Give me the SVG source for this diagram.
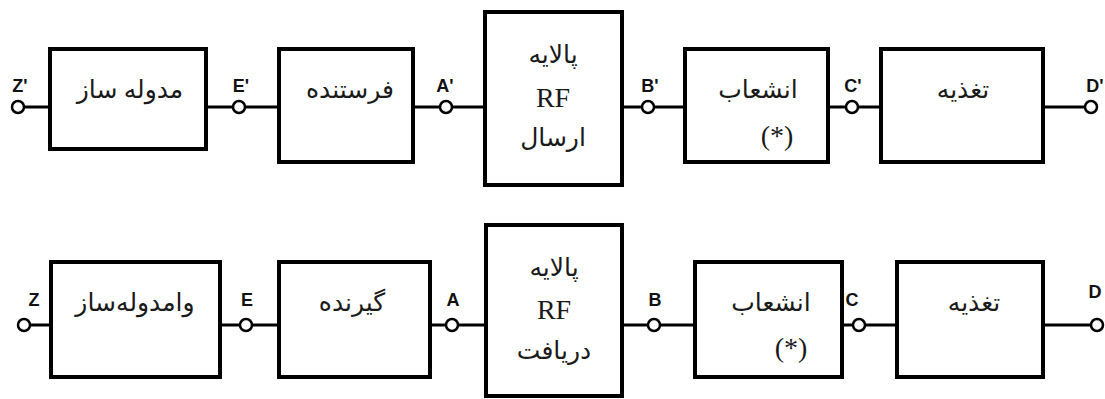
<svg xmlns="http://www.w3.org/2000/svg" xmlns:xlink="http://www.w3.org/1999/xlink" width="1105" height="399" viewBox="0 0 1105 399">
  <style>
    .box { fill: #ffffff; stroke: #000000; stroke-width: 4; }
    .wire { stroke: #000000; stroke-width: 3; fill: none; }
    .term { fill: #ffffff; stroke: #000000; stroke-width: 2.5; }
    .fa { font-family: "Liberation Serif", "DejaVu Sans", serif; font-size: 25px; fill: #1a1a1a; text-anchor: middle; direction: rtl; }
    .rf { font-family: "Liberation Serif", serif; font-size: 28px; fill: #1a1a1a; text-anchor: middle; }
    .pin { font-family: "Liberation Sans", Arial, sans-serif; font-size: 18px; font-weight: bold; fill: #111111; text-anchor: middle; }
  </style>
  <defs>
    <circle id="t" r="6" class="term"/>
  </defs>

  <g id="connectors">
    <g class="wire">
      <!-- transmit chain wires -->
      <line x1="24" y1="107" x2="50" y2="107"/>
      <line x1="206" y1="107" x2="279" y2="107"/>
      <line x1="413" y1="107" x2="485" y2="107"/>
      <line x1="622" y1="107" x2="685" y2="107"/>
      <line x1="828" y1="107" x2="881" y2="107"/>
      <line x1="1043" y1="107" x2="1085" y2="107"/>
      <!-- receive chain wires -->
      <line x1="30" y1="325" x2="51" y2="325"/>
      <line x1="220" y1="325" x2="279" y2="325"/>
      <line x1="430" y1="325" x2="486" y2="325"/>
      <line x1="622" y1="325" x2="695" y2="325"/>
      <line x1="842" y1="325" x2="897" y2="325"/>
      <line x1="1043" y1="325" x2="1091" y2="325"/>
    </g>
    <!-- terminal points -->
    <use xlink:href="#t" x="18" y="107"/>
    <use xlink:href="#t" x="239" y="107"/>
    <use xlink:href="#t" x="446" y="107"/>
    <use xlink:href="#t" x="648" y="107"/>
    <use xlink:href="#t" x="852" y="107"/>
    <use xlink:href="#t" x="1091" y="107"/>

    <use xlink:href="#t" x="24" y="325"/>
    <use xlink:href="#t" x="246" y="325"/>
    <use xlink:href="#t" x="452" y="325"/>
    <use xlink:href="#t" x="654" y="325"/>
    <use xlink:href="#t" x="859" y="325"/>
    <use xlink:href="#t" x="1097" y="325"/>
  </g>

  <!-- terminal labels -->
  <g id="pins">
    <text class="pin" x="20" y="92">Z'</text>
    <text class="pin" x="241" y="92">E'</text>
    <text class="pin" x="445" y="92">A'</text>
    <text class="pin" x="650" y="92">B'</text>
    <text class="pin" x="853" y="92">C'</text>
    <text class="pin" x="1095" y="92">D'</text>

    <text class="pin" x="34" y="306">Z</text>
    <text class="pin" x="247" y="306">E</text>
    <text class="pin" x="453" y="306">A</text>
    <text class="pin" x="655" y="306">B</text>
    <text class="pin" x="852" y="306">C</text>
    <text class="pin" x="1095" y="298">D</text>
  </g>

  <!-- transmit chain -->
  <g id="modulator">
    <rect class="box" x="50" y="49" width="156" height="100"/>
    <text class="fa" x="130" y="98">مدوله ساز</text>
  </g>
  <g id="transmitter">
    <rect class="box" x="279" y="49" width="134" height="113"/>
    <text class="fa" x="350" y="98">فرستنده</text>
  </g>
  <g id="tx-filter">
    <rect class="box" x="485" y="12" width="137" height="173"/>
    <text class="fa" x="553" y="63">پالایه</text>
    <text class="rf" x="553" y="107">RF</text>
    <text class="fa" x="553" y="146">ارسال</text>
  </g>
  <g id="tx-splitter">
    <rect class="box" x="685" y="49" width="143" height="113"/>
    <text class="fa" x="758" y="98">انشعاب</text>
    <text class="rf" x="777" y="145">(*)</text>
  </g>
  <g id="tx-feed">
    <rect class="box" x="881" y="49" width="162" height="113"/>
    <text class="fa" x="963" y="98">تغذیه</text>
  </g>

  <!-- receive chain -->
  <g id="demodulator">
    <rect class="box" x="51" y="262" width="169" height="115"/>
    <text class="fa" x="135" y="311">وامدوله‌ساز</text>
  </g>
  <g id="receiver">
    <rect class="box" x="279" y="262" width="151" height="115"/>
    <text class="fa" x="352" y="311">گیرنده</text>
  </g>
  <g id="rx-filter">
    <rect class="box" x="486" y="225" width="136" height="171"/>
    <text class="fa" x="554" y="276">پالایه</text>
    <text class="rf" x="554" y="319">RF</text>
    <text class="fa" x="554" y="359">دریافت</text>
  </g>
  <g id="rx-splitter">
    <rect class="box" x="695" y="262" width="147" height="115"/>
    <text class="fa" x="771" y="311">انشعاب</text>
    <text class="rf" x="791" y="357">(*)</text>
  </g>
  <g id="rx-feed">
    <rect class="box" x="897" y="262" width="146" height="115"/>
    <text class="fa" x="974" y="311">تغذیه</text>
  </g>
</svg>
